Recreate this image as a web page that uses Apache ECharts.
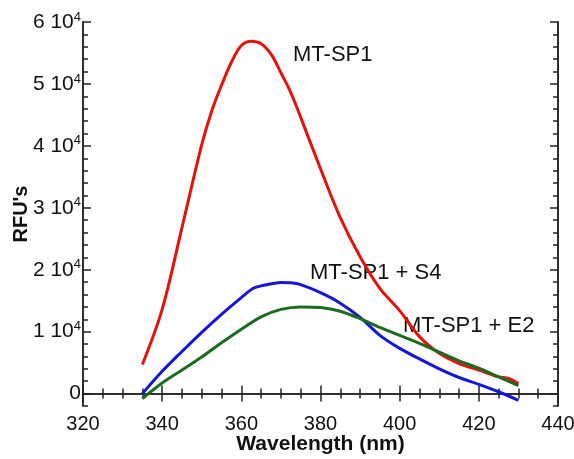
<!DOCTYPE html>
<html><head><meta charset="utf-8">
<script src="https://cdn.jsdelivr.net/npm/echarts@6/dist/echarts.min.js"></script>
<style>html,body{margin:0;padding:0;background:#fff}#c{width:574px;height:459px}</style>
</head><body><div id="c"></div>
<script>
const wlRed = [335,340,345,350,352.5,355,357.5,360,362.5,365,367.5,370,372.5,375,380,385,390,395,400,405,410,415,420,425,427.5,430];
const mtsp1 = [4700,13600,26800,40200,45600,49800,53500,56200,56900,56500,54800,51800,48600,44600,36300,28400,22100,17000,13400,9200,6500,4850,3800,2700,2450,1600];
const wlBlue = [335,340,345,350,355,360,363,365,370,372.5,375,380,385,390,395,400,405,410,415,420,425,430];
const mtsp1S4 = [0,3600,6800,9900,12800,15500,17000,17400,17950,17900,17600,16300,14600,12300,9400,7300,5600,4000,2600,1500,300,-1100];
const wlGreen = [335,340,345,350,355,360,365,370,375,380,385,390,395,400,405,410,415,420,425,430];
const mtsp1E2 = [-800,1700,3800,5900,8200,10400,12400,13600,14000,13900,13300,12100,10700,9400,8100,6700,5300,4100,2700,1300];
const yMajor = [0,10000,20000,30000,40000,50000,60000];
const yMinor = [];
for (let v = -2000; v <= 60000; v += 2000) yMinor.push(v);
const seriesNames = ['MT-SP1','MT-SP1 + S4','MT-SP1 + E2'];

const FONT = '"Liberation Sans", Arial, Helvetica, sans-serif';
const chart = echarts.init(document.getElementById('c'));
const lineStyleAxis = {color:'#222', width:1.5};
function yAxisDef(pos, ticks, len, labels){
  return {
    type:'value', position:pos, min:-2000, max:60000,
    axisLine:{show:true, lineStyle:lineStyleAxis},
    splitLine:{show:false},
    axisTick:{show:true, inside:true, length:len, customValues:ticks, lineStyle:lineStyleAxis},
    axisLabel: labels ? {
      show:true, customValues:yMajor, margin:2, color:'#111', fontFamily:FONT, fontSize:21,
      formatter: v => v===0 ? '{a|0}' : '{a|' + (v/10000) + ' 10}{s|4}',
      rich:{a:{fontSize:21, fontFamily:FONT, color:'#111'}, s:{fontSize:13, fontFamily:FONT, color:'#111', padding:[0,0,10,0]}}
    } : {show:false}
  };
}
function xAxisDef(pos, labels){
  return {
    type:'value', position:pos, min:320, max:440, interval:20,
    axisLine:{show:true, lineStyle:lineStyleAxis},
    splitLine:{show:false},
    axisTick:{show:true, inside:true, length:8, lineStyle:lineStyleAxis},
    minorTick:{show:true, splitNumber:4, length:5, lineStyle:lineStyleAxis},
    axisLabel: labels ? {show:true, color:'#111', fontFamily:FONT, fontSize:20, margin:8} : {show:false},
    name: labels ? 'Wavelength (nm)' : '',
    nameLocation:'middle', nameGap:28, nameMoveOverlap:false,
    nameTextStyle:{fontFamily:FONT, fontSize:21, fontWeight:'bold', color:'#111'}
  };
}
const yAxes = [yAxisDef('left', yMajor, 8, true), yAxisDef('left', yMinor, 5, false), yAxisDef('right', yMajor, 8, false), yAxisDef('right', yMinor, 5, false)];
yAxes[0].name = "RFU's";
yAxes[0].nameLocation = 'middle';
yAxes[0].nameGap = 52;
yAxes[0].nameMoveOverlap = false;
yAxes[0].nameTextStyle = {fontFamily:FONT, fontSize:20, fontWeight:'bold', color:'#111'};

function zip(a,b){return a.map((x,i)=>[x,b[i]]);}
chart.setOption({
  animation:false,
  backgroundColor:'#fff',
  grid:{left:83, right:16, top:22, bottom:53, containLabel:false, outerBoundsMode:'none'},
  xAxis:[xAxisDef('bottom', true), xAxisDef('top', false)],
  yAxis:yAxes,
  series:[
    {name:seriesNames[0], type:'line', data:zip(wlRed, mtsp1), smooth:0.35, showSymbol:false, lineStyle:{color:'#e3120b', width:3}},
    {name:seriesNames[1], type:'line', data:zip(wlBlue, mtsp1S4), smooth:0.3, showSymbol:false, lineStyle:{color:'#1515d6', width:3}},
    {name:seriesNames[2], type:'line', data:zip(wlGreen, mtsp1E2), smooth:0.3, showSymbol:false, lineStyle:{color:'#1b6b1f', width:3}}
  ],
  graphic:[
    {type:'text', left:293, top:44, style:{text:seriesNames[0], font:'22px '+FONT, fill:'#111'}},
    {type:'text', left:310, top:262, style:{text:seriesNames[1], font:'22px '+FONT, fill:'#111'}},
    {type:'text', left:403, top:315, style:{text:seriesNames[2], font:'22px '+FONT, fill:'#111'}}
  ]
});
</script></body></html>
